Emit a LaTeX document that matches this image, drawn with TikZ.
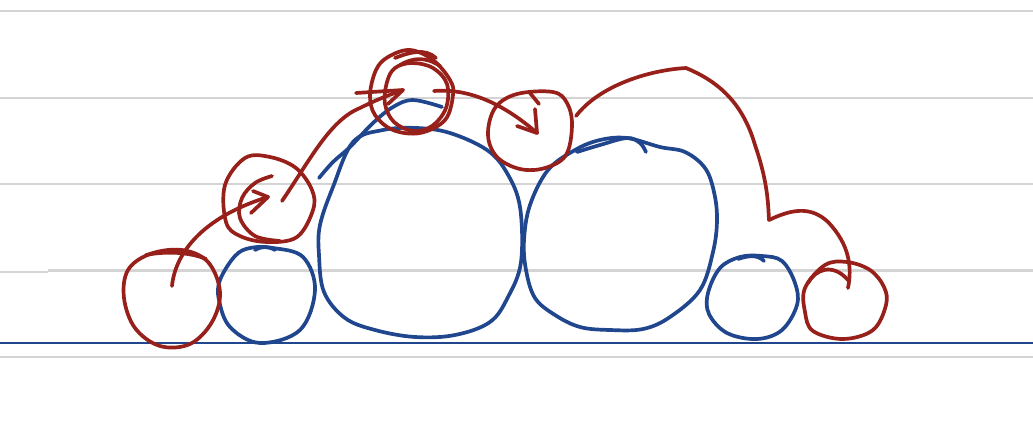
\documentclass[tikz,border=0pt]{standalone}
\definecolor{inkred}{RGB}{152,32,26}
\definecolor{inkblue}{RGB}{32,70,142}
\definecolor{rulegray}{RGB}{212,212,212}
\tikzset{
  redink/.style={draw=inkred, line width=1.05pt, line cap=round, line join=round},
  blueink/.style={draw=inkblue, line width=1.05pt, line cap=round, line join=round},
  ruleline/.style={draw=rulegray, line width=0.75pt},
  baseline/.style={draw=inkblue, line width=0.8pt}
}
\begin{document}
\begin{tikzpicture}[x=0.01cm, y=-0.01cm]
\useasboundingbox[fill=white] (0,0) rectangle (1033,427);
% ruled lines
\draw[ruleline] (0,11) -- (1033,11);
\draw[ruleline] (0,98) -- (1033,98);
\draw[ruleline] (0,184) -- (1033,184);
\draw[ruleline] (0,272) -- (48,272);
\draw[ruleline] (48,270.5) -- (1033,270.5);
\draw[ruleline] (0,357) -- (1033,357);
\draw[baseline] (0,343) -- (1033,343);

% blue circles
\draw[blueink] plot[smooth cycle, tension=0.6] coordinates {
  (250,248) (273,248) (303,257) (315,290) (300,330) (260,343) (230,327) (219,300) (220,280) (235,256)};
\draw[blueink] (255,250) .. controls (262,246) and (268,246) .. (275,250);

\draw[blueink] plot[smooth cycle, tension=0.6] coordinates {
  (383,130) (417,128) (450,133) (487,150) (507,173) (520,207) (521,262) (508,297) (490,322) (455,335) (415,337) (375,330) (345,318) (324,292) (319,255) (320,225) (333,187) (353,142)};
\draw[blueink] plot[smooth, tension=0.6] coordinates {
  (319,178) (333,162) (350,147) (373,123) (393,107) (413,100) (442,107)};

\draw[blueink] plot[smooth cycle, tension=0.6] coordinates {
  (600,140) (627,138) (660,147) (685,152) (705,168) (714,192) (717,220) (713,252) (700,290) (670,317) (643,329) (610,330) (580,327) (555,315) (535,298) (526,270) (524,240) (530,205) (548,170) (575,150)};
\draw[blueink] plot[smooth, tension=0.6] coordinates {
  (577,152) (600,145) (627,138) (640,143) (646,152)};

\draw[blueink] plot[smooth cycle, tension=0.6] coordinates {
  (740,257) (762,256) (782,261) (795,283) (797,305) (782,330) (757,339) (727,333) (709,314) (708,293) (720,268)};
\draw[blueink] (738,259) .. controls (750,255) and (758,255) .. (764,261);

% red circles
\coordinate (c1) at (172,286);
\draw[redink] plot[smooth cycle, tension=0.6] coordinates {
  (150,254) (182,250) (208,262) (220,292) (212,322) (190,344) (160,346) (135,328) (124,298) (128,270)};
\draw[redink] (146,255) .. controls (165,251) and (190,252) .. (206,259);

\coordinate (c2a) at (268,197);
\draw[redink] plot[smooth cycle, tension=0.6] coordinates {
  (245,158) (270,157) (296,168) (312,190) (313,210) (297,237) (267,242) (240,236) (226,222) (225,185)};
\draw[redink] plot[smooth, tension=0.6] coordinates {
  (272,176) (255,183) (242,198) (240,218) (255,236) (280,241)};
\coordinate (c2b) at (282,201);

\coordinate (c3a) at (403,90);
\draw[redink] plot[smooth cycle, tension=0.6] coordinates {
  (388,57) (410,50) (433,60) (450,80) (453,95) (445,120) (420,133) (393,130) (375,115) (370,95) (376,70)};
\draw[redink] plot[smooth cycle, tension=0.6] coordinates {
  (395,68) (412,63) (433,68) (447,84) (446,108) (432,126) (413,131) (394,122) (385,104) (387,82)};
\draw[redink] (395,58) .. controls (410,52) and (425,48) .. (436,58);
\draw[redink] (400,65) .. controls (412,58) and (425,56) .. (440,66);
\coordinate (c3b) at (434,91);

\coordinate (c4a) at (537,133);
\draw[redink] plot[smooth cycle, tension=0.6] coordinates {
  (517,94) (553,92) (567,103) (572,125) (566,155) (545,168) (520,169) (497,157) (488,135) (495,108)};
\draw[redink] (530,93) -- (539,104);
\coordinate (c4b) at (576,116);

\coordinate (c5) at (848,288);
\draw[redink] plot[smooth cycle, tension=0.6] coordinates {
  (825,265) (847,262) (870,270) (884,287) (886,305) (873,330) (843,339) (813,331) (805,312) (805,288)};
\draw[redink] (808,283) .. controls (815,270) and (832,262) .. (848,280);

% red connectors
\draw[redink] (c1) .. controls (175,255) and (200,218) .. (c2a);
\draw[redink] (253,191) -- (c2a) -- (251,213);

\draw[redink] (c2b) .. controls (310,160) and (330,120) .. (360,108)
  .. controls (380,98) and (392,94) .. (c3a);
\draw[redink] (356,93) -- (c3a) -- (388,104);

\draw[redink] (c3b) .. controls (470,88) and (505,105) .. (c4a);
\draw[redink] (535,109) -- (c4a) -- (517,126);

\coordinate (k) at (769,220);
\draw[redink] (c4b) .. controls (600,85) and (650,70) .. (686,68)
  .. controls (715,80) and (742,100) .. (755,145)
  .. controls (767,180) and (768,200) .. (k);
\draw[redink] (k) .. controls (790,210) and (810,205) .. (828,222)
  .. controls (850,245) and (852,268) .. (c5);
\end{tikzpicture}
\end{document}
